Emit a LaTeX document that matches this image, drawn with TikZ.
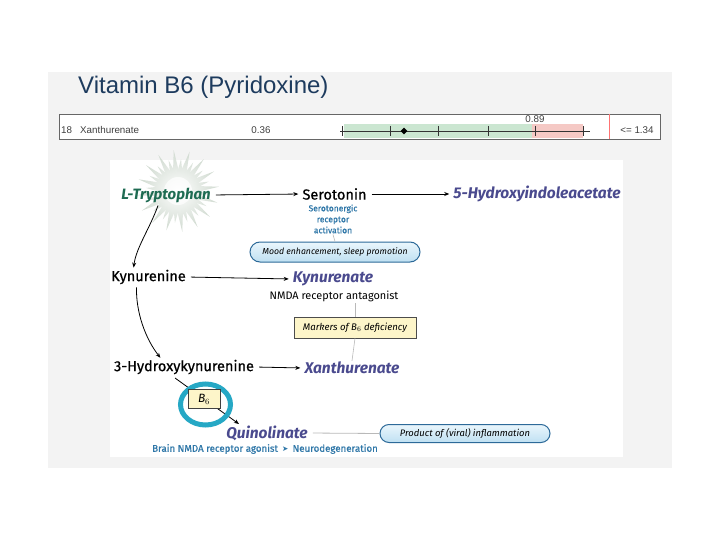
\documentclass[tikz,border=0pt]{standalone}
\usepackage{fontspec}
\setmainfont{Fira Sans}
\newfontfamily\medf[FakeBold=0.7]{Fira Sans}
\newfontfamily\arialf{Liberation Sans}
\newfontfamily\dejavu{DejaVu Sans}
\usetikzlibrary{arrows.meta,shapes.geometric,shapes.misc}
\definecolor{titlec}{HTML}{1D3B5E}
\definecolor{greenc}{HTML}{1E6B52}
\definecolor{purp}{HTML}{4A4A8E}
\definecolor{smallblue}{HTML}{2F77A8}
\definecolor{ringc}{HTML}{26A8C5}
\definecolor{boxblue}{HTML}{2D6A99}
\definecolor{pilltop}{HTML}{EAF6FC}
\definecolor{pillbot}{HTML}{BFE0F2}
\definecolor{yelfill}{HTML}{FDF5C9}
\definecolor{bandgreen}{HTML}{CBE6D1}
\definecolor{bandpink}{HTML}{F5C9C5}
\definecolor{bgc}{HTML}{F3F3F3}
\definecolor{starc}{HTML}{D0DAD0}
\tikzset{
  metab/.style={font=\fontsize{15.5}{17}\selectfont\bfseries\itshape, text=purp, inner sep=1pt},
  plainm/.style={font=\medf\fontsize{14.5}{16}\selectfont, inner sep=1pt},
  arr/.style={-{Stealth[length=5pt,width=4pt]}, line width=0.8pt, shorten <=4pt, shorten >=3pt},
  thinl/.style={draw=gray!55, line width=0.6pt},
  pill/.style={rounded rectangle, draw=boxblue, line width=1pt, top color=pilltop, bottom color=pillbot, inner sep=0pt},
  chartt/.style={font=\arialf\fontsize{9.8}{11}\selectfont, text=black!75, inner sep=0pt},
  tickmark/.style={draw=black!80, line width=0.6pt}
}
\begin{document}
\begin{tikzpicture}[x=1pt,y=-1pt]
\useasboundingbox (0,0) rectangle (720,540);
\fill[white] (0,0) rectangle (720,540);
\fill[bgc] (48,72) rectangle (672,468);
% title
\node[anchor=west, font=\arialf\fontsize{24}{26}\selectfont, text=titlec, inner sep=0pt] (title) at (78,87) {Vitamin B6 (Pyridoxine)};
% chart row
\node[draw=black!60, fill=white, line width=0.6pt, minimum width=601pt, minimum height=25pt, inner sep=0pt] (chart) at (359.5,126.5) {};
\fill[bandgreen] (344,124) rectangle (532,138);
\fill[bandpink] (532,124) rectangle (583,138);
\draw[tickmark] (340,131) -- (590,131);
\foreach \tx in {342,390,438,488,535,583} {\draw[tickmark] (\tx,126) -- (\tx,136);}
\node[diamond, fill=black, minimum size=7pt, inner sep=0pt] (val) at (404,131) {};
\node[chartt, anchor=west] (rank) at (61,130) {18};
\node[chartt, anchor=west] (analyte) at (80,130) {Xanthurenate};
\node[chartt] (res) at (261,130) {0.36};
\node[chartt] (lim) at (535,119) {0.89};
\draw[red!55, line width=0.6pt] (609,114) -- (609,139);
\node[chartt] (ref) at (637,130) {<= 1.34};
% figure panel
\fill[white] (110,160) rectangle (623,457);
% star
\node[star, star points=16, star point ratio=2.4, minimum size=82pt, inner sep=0pt, rotate=6, shading=radial, inner color=white, outer color=starc] (sunA) at (178,191) {};
\node[star, star points=16, star point ratio=2.0, minimum size=64pt, inner sep=0pt, rotate=17, shading=radial, inner color=white, outer color=starc!80] (sunB) at (178,191) {};
\fill[white, opacity=0.7] (178,191) circle (14pt);
% nodes
\node[font=\fontsize{15}{17}\selectfont\bfseries\itshape, text=greenc, inner sep=1pt] (ltrp) at (166,195) {L-Tryptophan};
\node[plainm] (sero) at (334.5,194) {Serotonin};
\node[metab] (hiaa) at (537,194) {5-Hydroxyindoleacetate};
\node[align=center, text=smallblue, font=\medf\fontsize{8.5}{11}\selectfont, inner sep=1pt] (act) at (333,219) {Serotonergic\\receptor\\activation};
\node[pill, minimum width=170pt, minimum height=20pt, font=\fontsize{8.7}{10}\selectfont\itshape] (mood) at (335,252) {Mood enhancement, sleep promotion};
\node[plainm] (kyn) at (148.5,277) {Kynurenine};
\node[metab] (kyna) at (333,279) {Kynurenate};
\node[font=\fontsize{10.9}{12}\selectfont, inner sep=1pt] (nmda) at (334,296) {NMDA receptor antagonist};
\node[draw=black!70, fill=yelfill, line width=0.6pt, minimum width=122pt, minimum height=21pt, inner sep=0pt, font=\fontsize{9.6}{11}\selectfont\itshape] (markers) at (355,327.5) {Markers of B$_6$ deficiency};
\node[plainm] (hk) at (184,367) {3-Hydroxykynurenine};
\node[metab] (xan) at (352,368) {Xanthurenate};
\node[metab] (quin) at (267,433) {Quinolinate};
\node[pill, minimum width=170pt, minimum height=18pt, font=\fontsize{9.4}{11}\selectfont\itshape] (prod) at (465,433.5) {Product of (viral) inflammation};
\node[text=smallblue, font=\medf\fontsize{9.7}{11}\selectfont, inner sep=1pt] (brain) at (265,449) {Brain NMDA receptor agonist \,{\dejavu\fontsize{7.5}{8}\selectfont ➤}\, Neurodegeneration};
% connectors
\draw[arr] (ltrp.east) -- (sero.west);
\draw[arr] (sero.east) -- (hiaa.west);
\draw[thinl] (act.south) -- (mood.north);
\draw[arr] (kyn.east) -- (kyna.west);
\draw[thinl] (markers.north) -- (markers.north |- nmda.south);
\draw[thinl] (markers.south) -- (xan.north);
\draw[arr] (hk.east) -- (xan.west);
\draw[thinl, line width=0.8pt, shorten <=4pt] (quin.east) -- (prod.west);
\draw[arr, shorten <=0pt, shorten >=1pt] ([xshift=-8pt,yshift=-2pt]ltrp.south) .. controls (150,228) and (136,248) .. ([xshift=-15pt]kyn.north);
\draw[arr, shorten <=2pt, shorten >=1pt] ([xshift=-12pt]kyn.south) .. controls (136,312) and (145,338) .. ([xshift=-23pt]hk.north);
\coordinate (hkout) at (175,378);
\coordinate (qin) at (239,424);
\draw[arr, shorten <=0pt, shorten >=0pt] (hkout) -- (qin);
\node[ellipse, draw=ringc, line width=5pt, minimum width=50pt, minimum height=41pt, inner sep=0pt] (ring) at (205.5,404.5) {};
\node[draw=black!75, fill=yelfill, line width=0.8pt, minimum width=32pt, minimum height=19pt, inner sep=0pt, font=\fontsize{12}{13}\selectfont\itshape] (b6) at (204,399) {B$_6$};
\end{tikzpicture}
\end{document}
